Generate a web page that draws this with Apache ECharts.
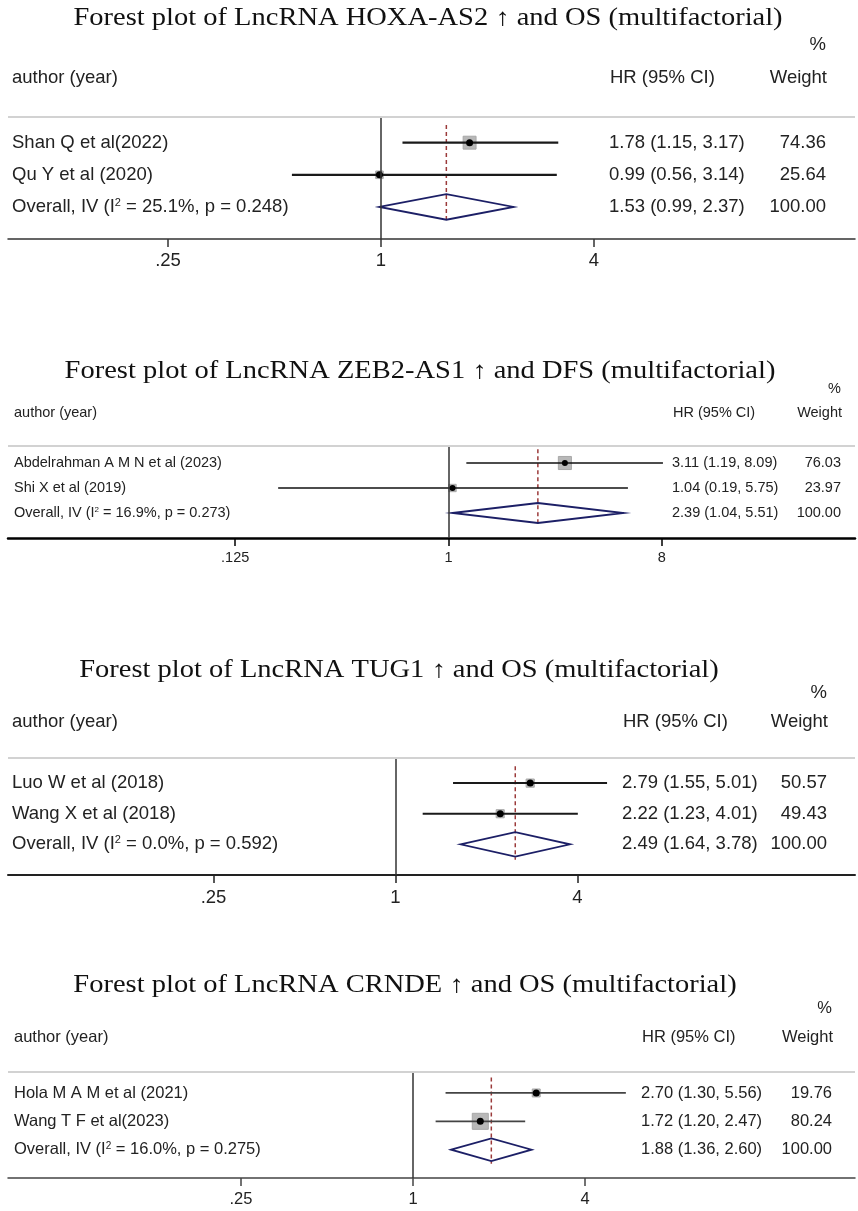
<!DOCTYPE html>
<html>
<head>
	<meta charset="utf-8" />
	<title>Forest plots</title>
	<script src="https://cdn.jsdelivr.net/npm/echarts@6/dist/echarts.min.js"></script>
	<style>
		html, body { margin: 0; padding: 0; background: #fff; }
		#main { width: 858px; height: 1211px; }
	</style>
</head>
<body>
<div id="main"></div>
<script>
	// 数据：每个森林图一组
	var titles = [
		'Forest plot of LncRNA HOXA-AS2 \u2191 and OS (multifactorial)',
		'Forest plot of LncRNA ZEB2-AS1 \u2191 and DFS (multifactorial)',
		'Forest plot of LncRNA TUG1 \u2191 and OS (multifactorial)',
		'Forest plot of LncRNA CRNDE \u2191 and OS (multifactorial)'
	];

	var authors1 = ['Shan Q et al(2022)', 'Qu Y et al (2020)'];
	var hr1 = [1.78, 0.99];
	var lower1 = [1.15, 0.56];
	var upper1 = [3.17, 3.14];
	var weight1 = [74.36, 25.64];
	var overall1 = [1.53, 0.99, 2.37];
	var het1 = ['25.1%', '0.248'];
	var ticks1 = [0.25, 1, 4];
	var tickLabels1 = ['.25', '1', '4'];

	var authors2 = ['Abdelrahman A M N et al (2023)', 'Shi X et al (2019)'];
	var hr2 = [3.11, 1.04];
	var lower2 = [1.19, 0.19];
	var upper2 = [8.09, 5.75];
	var weight2 = [76.03, 23.97];
	var overall2 = [2.39, 1.04, 5.51];
	var het2 = ['16.9%', '0.273'];
	var ticks2 = [0.125, 1, 8];
	var tickLabels2 = ['.125', '1', '8'];

	var authors3 = ['Luo W et al (2018)', 'Wang X et al (2018)'];
	var hr3 = [2.79, 2.22];
	var lower3 = [1.55, 1.23];
	var upper3 = [5.01, 4.01];
	var weight3 = [50.57, 49.43];
	var overall3 = [2.49, 1.64, 3.78];
	var het3 = ['0.0%', '0.592'];
	var ticks3 = [0.25, 1, 4];
	var tickLabels3 = ['.25', '1', '4'];

	var authors4 = ['Hola M A M et al (2021)', 'Wang T F et al(2023)'];
	var hr4 = [2.70, 1.72];
	var lower4 = [1.30, 1.20];
	var upper4 = [5.56, 2.47];
	var weight4 = [19.76, 80.24];
	var overall4 = [1.88, 1.36, 2.60];
	var het4 = ['16.0%', '0.275'];
	var ticks4 = [0.25, 1, 4];
	var tickLabels4 = ['.25', '1', '4'];

	var panels = [
		{title: titles[0], authors: authors1, hr: hr1, lower: lower1, upper: upper1, weight: weight1, overall: overall1, het: het1, ticks: ticks1, tickLabels: tickLabels1},
		{title: titles[1], authors: authors2, hr: hr2, lower: lower2, upper: upper2, weight: weight2, overall: overall2, het: het2, ticks: ticks2, tickLabels: tickLabels2},
		{title: titles[2], authors: authors3, hr: hr3, lower: lower3, upper: upper3, weight: weight3, overall: overall3, het: het3, ticks: ticks3, tickLabels: tickLabels3},
		{title: titles[3], authors: authors4, hr: hr4, lower: lower4, upper: upper4, weight: weight4, overall: overall4, het: het4, ticks: ticks4, tickLabels: tickLabels4}
	];

	// 版式（像素）
	var layout = [
		{top: 117, height: 122, yMin: -0.8, one: 381, unit: 106.5, font: 18.5,
			titleX: 428, titleY: 19, pctY: 45, headY: 78, authorX: 12, hrX: 609, wRight: 826,
			boxK: 1.5, dot: 3.5, ciColor: '#1a1a1a', ciWidth: 2.2, axisColor: '#333', axisWidth: 1.5, tickMargin: 12},
		{top: 446, height: 92, yMin: -0.68, one: 448.5, unit: 71.1, font: 14.5,
			titleX: 420, titleY: 372, pctY: 389, headY: 413, authorX: 14, hrX: 672, wRight: 841,
			boxK: 1.5, dot: 3, ciColor: '#111', ciWidth: 1.5, axisColor: '#000', axisWidth: 2.5, tickMargin: 12},
		{top: 758, height: 117, yMin: -0.82, one: 395.5, unit: 91, font: 18.5,
			titleX: 399, titleY: 671, pctY: 693, headY: 722, authorX: 12, hrX: 622, wRight: 827,
			boxK: 1.15, dot: 3.5, ciColor: '#1a1a1a', ciWidth: 2, axisColor: '#222', axisWidth: 2, tickMargin: 13},
		{top: 1072, height: 106, yMin: -0.74, one: 413, unit: 86, font: 16.5,
			titleX: 405, titleY: 986, pctY: 1008, headY: 1037, authorX: 14, hrX: 641, wRight: 832,
			boxK: 1.79, dot: 3.5, ciColor: '#444', ciWidth: 1.8, axisColor: '#444', axisWidth: 1.5, tickMargin: 13}
	];

	var sans = '"Liberation Sans", Arial, Helvetica, sans-serif';
	var serif = '"Liberation Serif", "Times New Roman", serif';
	var textColor = '#222';

	function fmt(v) {
		return v.toFixed(2);
	}

	var chart = echarts.init(document.getElementById('main'));
	var option = {
		backgroundColor: '#fff',
		animation: false,
		grid: [],
		xAxis: [],
		yAxis: [],
		series: [],
		graphic: []
	};

	panels.forEach(function(pd, i) {
		var L = layout[i];
		var tickPos = pd.ticks.map(Math.log2);
		var leftLabels = pd.authors.concat(['Overall, IV (I{s|2} = ' + pd.het[0] + ', p = ' + pd.het[1] + ')']);
		var hrLabels = [];
		var wLabels = [];
		for (var k = 0; k < pd.hr.length; k++) {
			hrLabels.push(fmt(pd.hr[k]) + ' (' + fmt(pd.lower[k]) + ', ' + fmt(pd.upper[k]) + ')');
			wLabels.push(fmt(pd.weight[k]));
		}
		hrLabels.push(fmt(pd.overall[0]) + ' (' + fmt(pd.overall[1]) + ', ' + fmt(pd.overall[2]) + ')');
		wLabels.push('100.00');

		option.grid.push({left: 8, right: 3, top: L.top, height: L.height});

		option.xAxis.push({
			type: 'value',
			gridIndex: i,
			min: (8 - L.one) / L.unit,
			max: (855 - L.one) / L.unit,
			axisLine: {show: true, onZero: false, lineStyle: {color: L.axisColor, width: L.axisWidth}},
			axisTick: {show: true, customValues: tickPos, length: 8, lineStyle: {color: L.axisColor, width: 1.5}},
			axisLabel: {
				customValues: tickPos,
				margin: L.tickMargin,
				fontSize: L.font,
				fontFamily: sans,
				color: textColor,
				formatter: function(v) {
					for (var j = 0; j < tickPos.length; j++) {
						if (Math.abs(tickPos[j] - v) < 1e-6) return pd.tickLabels[j];
					}
					return '';
				}
			},
			splitLine: {show: false}
		});

		var baseY = {
			type: 'value',
			gridIndex: i,
			inverse: true,
			min: L.yMin,
			max: 3,
			axisLine: {show: false, onZero: false},
			axisTick: {show: false},
			splitLine: {show: false}
		};
		// 左：研究名称
		option.yAxis.push(echarts.util.merge({
			position: 'left',
			axisLabel: {
				customValues: [0, 1, 2],
				align: 'left',
				margin: 8 - L.authorX,
				fontSize: L.font,
				fontFamily: sans,
				color: textColor,
				rich: {s: {fontSize: Math.round(L.font * 0.58), fontFamily: sans, color: textColor, verticalAlign: 'top'}},
				formatter: function(v) { return leftLabels[Math.round(v)]; }
			}
		}, baseY, false));
		// 右：HR (95% CI)
		option.yAxis.push(echarts.util.merge({
			position: 'right',
			axisLabel: {
				customValues: [0, 1, 2],
				align: 'left',
				margin: L.hrX - 855,
				fontSize: L.font,
				fontFamily: sans,
				color: textColor,
				formatter: function(v) { return hrLabels[Math.round(v)]; }
			}
		}, baseY, false));
		// 右：权重
		option.yAxis.push(echarts.util.merge({
			position: 'right',
			axisLabel: {
				customValues: [0, 1, 2],
				align: 'right',
				margin: L.wRight - 855,
				fontSize: L.font,
				fontFamily: sans,
				color: textColor,
				formatter: function(v) { return wLabels[Math.round(v)]; }
			}
		}, baseY, false));

		// 参考线（合并效应）+ 无效线 + 表头分隔线
		option.series.push({
			type: 'line',
			xAxisIndex: i,
			yAxisIndex: i * 3,
			symbol: 'none',
			silent: true,
			z: 2,
			lineStyle: {color: '#9b3a3a', width: 1.5, type: [4, 3]},
			data: [[Math.log2(pd.overall[0]), -0.55], [Math.log2(pd.overall[0]), 2.5]],
			markLine: {
				silent: true,
				symbol: 'none',
				label: {show: false},
				data: [
					{xAxis: 0, lineStyle: {color: '#333', width: 1.5, type: 'solid'}},
					{yAxis: L.yMin, lineStyle: {color: '#d2d2d2', width: 2, type: 'solid'}}
				]
			}
		});

		// 合并效应菱形
		option.series.push({
			type: 'custom',
			xAxisIndex: i,
			yAxisIndex: i * 3,
			silent: true,
			clip: false,
			z: 3,
			encode: {x: 2, y: 3},
			data: [[Math.log2(pd.overall[1]), Math.log2(pd.overall[2]), Math.log2(pd.overall[0]), 2]],
			renderItem: function(params, api) {
				var row = api.value(3);
				var l = api.coord([api.value(0), row]);
				var r = api.coord([api.value(1), row]);
				var t = api.coord([api.value(2), row - 0.4]);
				var b = api.coord([api.value(2), row + 0.4]);
				return {
					type: 'polygon',
					shape: {points: [l, t, r, b]},
					style: {fill: 'none', stroke: '#1c1f66', lineWidth: 1.8}
				};
			}
		});

		// 各研究：权重方块 + 置信区间 + 点估计
		var studyData = [];
		for (var m = 0; m < pd.hr.length; m++) {
			studyData.push([Math.log2(pd.lower[m]), Math.log2(pd.upper[m]), Math.log2(pd.hr[m]), m, pd.weight[m]]);
		}
		option.series.push({
			type: 'custom',
			xAxisIndex: i,
			yAxisIndex: i * 3,
			silent: true,
			clip: false,
			z: 4,
			encode: {x: 2, y: 3},
			data: studyData,
			renderItem: function(params, api) {
				var row = api.value(3);
				var lo = api.coord([api.value(0), row]);
				var hi = api.coord([api.value(1), row]);
				var c = api.coord([api.value(2), row]);
				var side = L.boxK * Math.sqrt(api.value(4));
				return {
					type: 'group',
					children: [
						{type: 'rect', shape: {x: c[0] - side / 2, y: c[1] - side / 2, width: side, height: side},
							style: {fill: '#b8b8b8', stroke: '#a8a8a8', lineWidth: 1}},
						{type: 'line', shape: {x1: lo[0], y1: lo[1], x2: hi[0], y2: hi[1]},
							style: {stroke: L.ciColor, lineWidth: L.ciWidth}},
						{type: 'circle', shape: {cx: c[0], cy: c[1], r: L.dot}, style: {fill: '#000'}}
					]
				};
			}
		});

		// 标题与表头
		option.graphic.push({
			type: 'text', x: L.titleX, y: L.titleY, scaleY: 0.85, silent: true,
			style: {text: pd.title, font: '28.5px ' + serif, fill: '#111',
				textAlign: 'center', textVerticalAlign: 'middle', align: 'center', verticalAlign: 'middle'}
		});
		var headFont = L.font + 'px ' + sans;
		var heads = [
			{text: 'author (year)', x: L.authorX, y: L.headY, a: 'left'},
			{text: 'HR (95% CI)', x: L.hrX + 1, y: L.headY, a: 'left'},
			{text: 'Weight', x: L.wRight + 1, y: L.headY, a: 'right'},
			{text: '%', x: L.wRight, y: L.pctY, a: 'right'}
		];
		heads.forEach(function(h) {
			option.graphic.push({
				type: 'text', x: h.x, y: h.y, silent: true,
				style: {text: h.text, font: headFont, fill: textColor,
					textAlign: h.a, textVerticalAlign: 'middle', align: h.a, verticalAlign: 'middle'}
			});
		});
	});

	chart.setOption(option);

	window.onresize = function() {
		chart.resize();
	};
</script>
</body>
</html>
